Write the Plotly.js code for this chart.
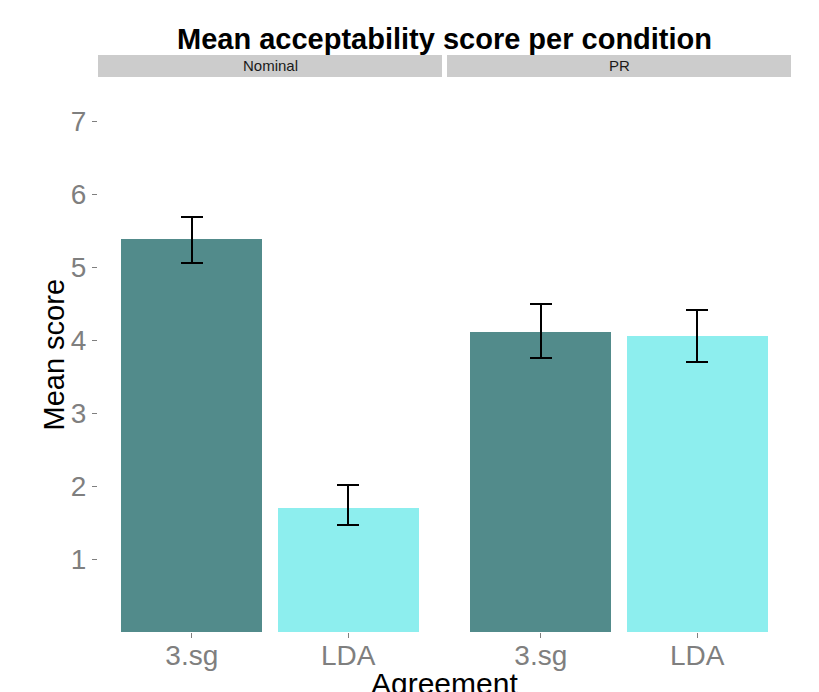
<!DOCTYPE html>
<html>
<head>
<meta charset="utf-8">
<script src="https://cdn.plot.ly/plotly-3.0.1.min.js"></script>
<style>html,body{margin:0;padding:0;background:#fff;}#chart{width:819px;height:692px;}</style>
</head>
<body>
<div id="chart"></div>
<script>
// Data
const panels = ["Nominal", "PR"];
const agreement = ["3.sg", "LDA"];
const nominalMeans = [5.38, 1.70];
const nominalUpper = [5.68, 2.01];
const nominalLower = [5.06, 1.46];
const prMeans = [4.11, 4.05];
const prUpper = [4.50, 4.41];
const prLower = [3.75, 3.70];
const fillColors = ["#528B8B", "#8DEEEE"];

const FONT = "Liberation Sans, Arial, Helvetica, sans-serif";

function makeTrace(means, upper, lower, xa, ya) {
  return {
    type: "bar",
    x: agreement,
    y: means,
    xaxis: xa,
    yaxis: ya,
    width: 0.9,
    marker: { color: fillColors, line: { width: 0 } },
    error_y: {
      type: "data",
      symmetric: false,
      array: upper.map((u, i) => u - means[i]),
      arrayminus: lower.map((l, i) => means[i] - l),
      color: "#000000",
      thickness: 2,
      width: 11
    },
    hoverinfo: "x+y",
    showlegend: false
  };
}

const data = [
  makeTrace(nominalMeans, nominalUpper, nominalLower, "x", "y"),
  makeTrace(prMeans, prUpper, prLower, "x2", "y2")
];

const W = 819, H = 692;
const L = 98, R = 28, T = 77, B = 60;
const pw = W - L - R, ph = H - T - B;
const d1 = [0, (442 - L) / pw];
const d2 = [(447 - L) / pw, 1];
const yTop = ph / 73;

const xCommon = {
  type: "category",
  range: [-0.6, 1.6],
  showgrid: false,
  zeroline: false,
  showline: false,
  ticks: "outside",
  ticklen: 5,
  tickwidth: 1,
  tickcolor: "#7F7F7F",
  ticklabelstandoff: -7,
  tickfont: { family: FONT, size: 28, color: "#7F7F7F" },
  fixedrange: true
};

const layout = {
  width: W,
  height: H,
  margin: { l: L, r: R, t: T, b: B, pad: 0 },
  paper_bgcolor: "#FFFFFF",
  plot_bgcolor: "#FFFFFF",
  font: { family: FONT },
  bargap: 0,
  title: {
    text: "<b>Mean acceptability score per condition</b>",
    font: { family: FONT, size: 29, color: "#000000" },
    x: (L + pw / 2) / W,
    xanchor: "center",
    xref: "container",
    y: 1 - 39 / H,
    yanchor: "middle",
    yref: "container"
  },
  xaxis: Object.assign({}, xCommon, { domain: d1, anchor: "y" }),
  xaxis2: Object.assign({}, xCommon, { domain: d2, anchor: "y2" }),
  yaxis: {
    range: [0, yTop],
    tickvals: [1, 2, 3, 4, 5, 6, 7],
    ticktext: ["1", "2", "3", "4", "5", "6", "7"],
    showgrid: false,
    zeroline: false,
    showline: false,
    ticks: "outside",
    ticklen: 5,
    tickwidth: 1,
    tickcolor: "#7F7F7F",
    ticklabelstandoff: 0,
    tickfont: { family: FONT, size: 28, color: "#7F7F7F" },
    anchor: "x",
    fixedrange: true
  },
  yaxis2: {
    range: [0, yTop],
    matches: "y",
    showgrid: false,
    zeroline: false,
    showline: false,
    showticklabels: false,
    ticks: "",
    anchor: "x2",
    fixedrange: true
  },
  shapes: [
    { type: "rect", xref: "paper", yref: "paper", x0: d1[0], x1: d1[1], y0: 1, y1: 1 + 22 / ph, fillcolor: "#CCCCCC", line: { width: 0 }, layer: "below" },
    { type: "rect", xref: "paper", yref: "paper", x0: d2[0], x1: d2[1], y0: 1, y1: 1 + 22 / ph, fillcolor: "#CCCCCC", line: { width: 0 }, layer: "below" }
  ],
  annotations: [
    { text: panels[0], xref: "paper", yref: "paper", x: (d1[0] + d1[1]) / 2, y: 1 + 11 / ph, xanchor: "center", yanchor: "middle", showarrow: false, font: { family: FONT, size: 15, color: "#1A1A1A" } },
    { text: panels[1], xref: "paper", yref: "paper", x: (d2[0] + d2[1]) / 2, y: 1 + 11 / ph, xanchor: "center", yanchor: "middle", showarrow: false, font: { family: FONT, size: 15, color: "#1A1A1A" } },
    { text: "Agreement", xref: "paper", yref: "paper", x: 0.5, y: -(683 - 632) / ph, xanchor: "center", yanchor: "middle", showarrow: false, font: { family: FONT, size: 30, color: "#000000" } },
    { text: "Mean score", xref: "paper", yref: "paper", x: (53 - L) / pw, y: 0.5, xanchor: "center", yanchor: "middle", textangle: -90, showarrow: false, font: { family: FONT, size: 29, color: "#000000" } }
  ]
};

Plotly.newPlot("chart", data, layout, { displayModeBar: false, staticPlot: true });
</script>
</body>
</html>
